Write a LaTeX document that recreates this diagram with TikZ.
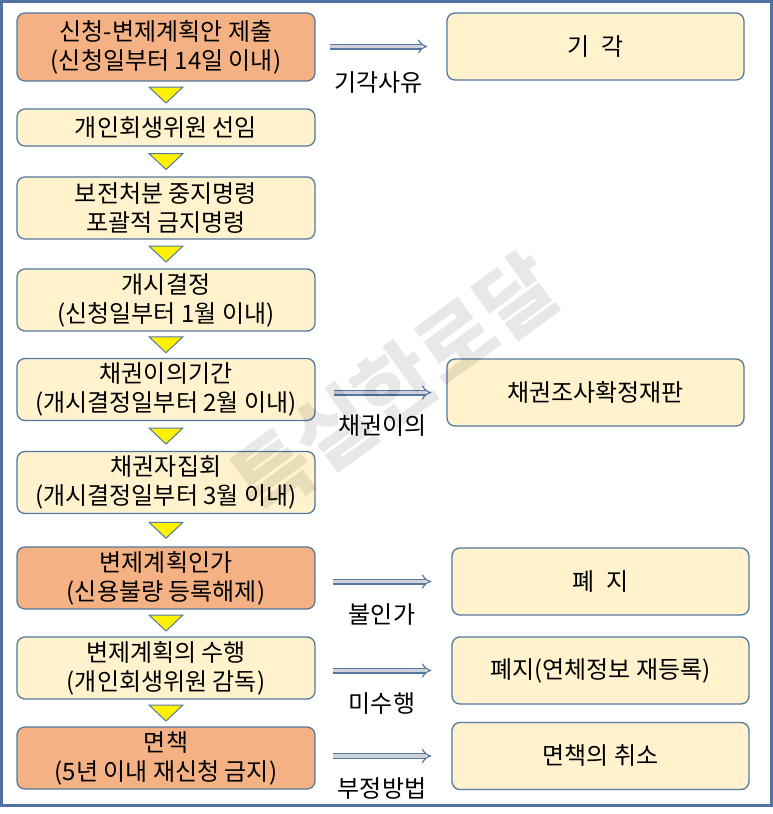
\documentclass[tikz,border=0pt]{standalone}
\usepackage{fontspec}
\setmainfont{Noto Sans CJK KR}
\usetikzlibrary{positioning,calc}
\usetikzlibrary{arrows.meta}
\definecolor{bordo}{RGB}{84,120,160}
\definecolor{cornice}{RGB}{79,115,160}
\definecolor{arancio}{RGB}{244,177,131}
\definecolor{crema}{RGB}{255,242,204}
\definecolor{grigio}{RGB}{208,210,218}
\tikzstyle{stage} = [rectangle, 
rounded corners=8pt, minimum width=298pt, minimum height=62pt, inner sep=0pt, align=center, text centered, draw=bordo, line width=1.3pt, fill=crema]
\tikzstyle{keystage} = [stage, fill=arancio]
\tikzstyle{outcome} = [stage, minimum width=297pt, minimum height=67pt]
\tikzstyle{downtri} = [draw=bordo, line width=1pt, fill=yellow]
\tikzstyle{sidearrow} = [draw=bordo, line width=1.2pt, double=grigio, double distance=3.6pt, -{Implies}]

\begin{document}
\begin{tikzpicture}[x=1pt,y=-1pt,font=\fontsize{24}{29}\selectfont]
						\useasboundingbox (0,0) rectangle (773,814);
						\draw[cornice, line width=3pt] (1.5,1.5) rectangle (771.5,805.5);
						\node (a1) at (166,47) [keystage, minimum height=68pt] {신청-변제계획안 제출\\(신청일부터 14일 이내)};
						\node (a2) at (166,127.5) [stage, minimum height=37pt] {개인회생위원 선임};
						\node (a3) at (166,208) [stage] {보전처분 중지명령\\포괄적 금지명령};
						\node (a4) at (166,300) [stage] {개시결정\\(신청일부터 1월 이내)};
						\node (a5) at (166,389.5) [stage] {채권이의기간\\(개시결정일부터 2월 이내)};
						\node (a6) at (166,482.5) [stage] {채권자집회\\(개시결정일부터 3월 이내)};
						\node (a7) at (166,578) [keystage] {변제계획인가\\(신용불량 등록해제)};
						\node (a8) at (166,668) [stage] {변제계획의 수행\\(개인회생위원 감독)};
						\node (a9) at (166,758) [keystage] {면책\\(5년 이내 재신청 금지)};
						\node (r1) at (595.5,46.5) [outcome] {기\hspace{0.5em}각};
						\node (r2) at (595.5,392.5) [outcome] {채권조사확정재판};
						\node (r3) at (600.5,581.5) [outcome] {폐\hspace{0.5em}지};
						\node (r4) at (600.5,670.5) [outcome] {폐지(연체정보 재등록)};
						\node (r5) at (600.5,756) [outcome] {면책의 취소};
						\draw[downtri] ($(a1.south)!0.5!(a2.north)$) ++(-17,-8) -- ++(34,0) -- ++(-17,16) -- cycle;
						\draw[downtri] ($(a2.south)!0.5!(a3.north)$) ++(-17,-8) -- ++(34,0) -- ++(-17,16) -- cycle;
						\draw[downtri] ($(a3.south)!0.5!(a4.north)$) ++(-17,-8) -- ++(34,0) -- ++(-17,16) -- cycle;
						\draw[downtri] ($(a4.south)!0.5!(a5.north)$) ++(-17,-8) -- ++(34,0) -- ++(-17,16) -- cycle;
						\draw[downtri] ($(a5.south)!0.5!(a6.north)$) ++(-17,-8) -- ++(34,0) -- ++(-17,16) -- cycle;
						\draw[downtri] ($(a6.south)!0.5!(a7.north)$) ++(-17,-8) -- ++(34,0) -- ++(-17,16) -- cycle;
						\draw[downtri] ($(a7.south)!0.5!(a8.north)$) ++(-17,-8) -- ++(34,0) -- ++(-17,16) -- cycle;
						\draw[downtri] ($(a8.south)!0.5!(a9.north)$) ++(-17,-8) -- ++(34,0) -- ++(-17,16) -- cycle;
						\draw[sidearrow] ($(a1.east |- r1.west)+(14,0)$) -- ($(r1.west)+(-19,0)$) node[midway,below=21pt] {기각사유};
						\draw[sidearrow] ($(a5.east |- r2.west)+(18,0)$) -- ($(r2.west)+(-15,0)$) node[midway,below=18pt] {채권이의};
						\draw[sidearrow] ($(a7.east |- r3.west)+(17,0)$) -- ($(r3.west)+(-20,0)$) node[midway,below=18pt] {불인가};
						\draw[sidearrow] ($(a8.east |- r4.west)+(17,0)$) -- ($(r4.west)+(-20,0)$) node[midway,below=18pt] {미수행};
						\draw[sidearrow] ($(a9.east |- r5.west)+(17,0)$) -- ($(r5.west)+(-20,0)$) node[midway,below=18pt] {부정방법};
						\node (wm) at (395,385) [rotate=36, opacity=0.09, font=\fontsize{82}{82}\selectfont\bfseries] {특실한로달};
					\end{tikzpicture}
\end{document}
